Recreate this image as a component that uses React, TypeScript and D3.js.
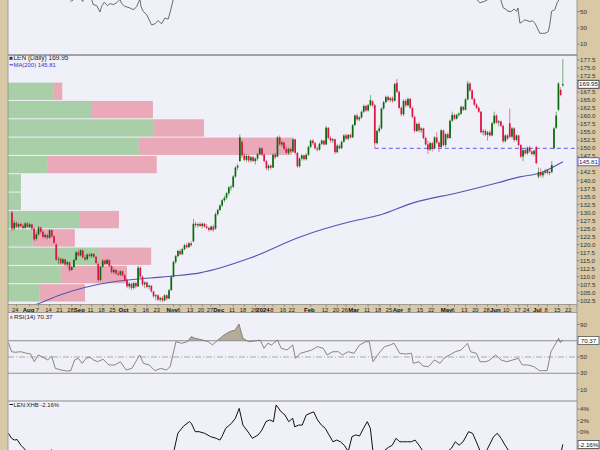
import React from 'react';
import * as d3 from 'd3';

// ---------------- DATA ----------------
// Daily candles (open, high, low, close), trading-day index starting at -12 (Jul 20 2023), index 0 = Aug 7 2023
const firstIndex = -12;
const candles: [number, number, number, number][] = [
  [130.0,130.5,124.2,125.0],[125.0,127.5,124.5,126.8],[126.8,127.2,125.2,125.6],[125.6,126.8,125.0,126.4],
  [126.4,126.9,125.4,125.8],[125.8,126.5,124.8,125.2],[125.2,127.0,125.0,126.6],[126.6,126.9,125.3,125.5],
  [125.5,126.8,125.1,126.3],[126.3,126.5,124.6,125.0],[125.0,125.3,121.0,121.6],[121.8,123.8,121.2,123.2],
  // 0
  [123.2,125.8,122.8,125.3],[125.3,125.6,123.5,124.0],[124.0,124.6,122.0,122.4],[122.4,123.5,121.8,123.0],
  [123.0,123.4,121.6,122.1],[122.1,124.8,121.9,124.5],[124.5,124.8,122.2,122.6],[122.6,123.0,120.2,120.6],
  [120.0,120.4,114.8,115.3],[115.3,116.2,114.0,115.6],
  // 10
  [115.6,116.0,113.8,114.2],[114.2,115.8,113.9,115.4],[115.4,115.6,113.3,113.8],[113.8,115.0,113.2,114.5],
  [114.5,114.7,111.6,112.1],[112.1,113.4,111.8,113.0],[113.0,115.6,112.8,115.2],[115.2,118.0,115.0,117.6],
  [117.6,118.4,116.2,116.6],[116.6,118.6,116.3,118.2],
  // 20
  [118.2,118.5,115.8,116.0],[116.0,116.8,114.9,115.4],[115.4,117.3,115.2,116.9],[116.9,117.5,116.0,116.4],
  [116.4,117.4,115.8,117.1],[117.1,117.3,115.8,116.2],[116.2,116.5,113.8,114.3],[114.0,114.4,108.3,109.0],
  [109.0,113.4,108.6,113.1],[113.1,115.5,112.8,115.0],
  // 30
  [115.0,115.4,113.6,114.0],[114.0,115.6,113.8,115.2],[115.2,115.4,113.0,113.3],[113.3,113.6,111.0,111.4],
  [111.4,112.6,110.8,112.1],[112.1,112.4,110.6,111.0],[111.0,111.9,110.2,110.6],[110.6,112.0,110.3,111.7],
  [111.7,111.9,110.0,110.4],[110.4,110.8,108.6,109.0],
  // 40
  [109.0,109.4,106.4,107.0],[107.0,108.4,106.2,107.8],[107.8,108.2,105.8,106.5],[106.5,108.5,106.0,108.0],
  [108.0,108.4,106.4,107.0],[107.0,113.4,106.8,112.8],[112.8,113.2,109.6,110.0],[110.0,110.4,107.0,107.6],
  [107.6,108.6,106.4,108.2],[108.2,108.6,106.4,106.8],
  // 50
  [106.8,107.6,106.0,107.2],[107.2,107.4,105.0,105.4],[105.4,105.6,103.4,103.9],[103.9,104.6,102.6,104.2],
  [104.2,104.5,102.4,102.9],[102.9,103.8,102.2,103.4],[103.4,104.0,102.0,102.6],[102.6,104.6,102.3,104.2],
  [104.2,104.5,102.8,103.2],[103.2,106.2,103.0,105.8],
  // 60
  [105.8,110.4,105.6,110.0],[110.0,115.0,109.8,114.6],[114.6,116.8,114.0,116.4],[116.4,118.4,116.0,118.0],
  [118.0,118.6,116.6,117.0],[117.0,119.0,116.8,118.6],[118.6,120.2,118.2,119.8],[119.8,120.6,118.8,119.2],
  [119.2,120.8,119.0,120.4],[120.4,121.0,119.4,119.8],
  // 70
  [121.0,128.0,120.8,126.5],[126.5,127.2,125.4,126.0],[126.0,126.8,125.2,126.4],[126.4,127.0,125.5,125.8],
  [125.8,126.9,125.0,126.5],[126.5,126.8,125.3,125.6],[125.6,126.4,124.8,125.2],[125.2,125.6,124.0,124.6],
  [124.6,126.0,124.2,125.6],[125.6,126.2,124.0,124.6],
  // 80
  [125.0,130.0,124.6,129.5],[129.5,131.2,129.0,130.8],[130.8,132.6,130.4,132.2],[132.2,134.2,131.6,133.8],
  [133.8,135.2,133.2,134.6],[134.6,136.4,134.0,136.0],[136.0,138.2,135.4,137.8],[137.8,138.6,136.8,138.0],
  [138.0,141.6,137.6,141.2],[141.2,144.4,140.8,144.0],
  // 90
  [144.0,145.2,143.2,144.6],[146.0,154.4,145.8,153.4],[152.0,152.6,147.0,147.8],[147.8,148.6,146.0,146.4],
  [146.4,148.2,145.8,147.6],[147.6,148.0,145.6,146.2],[146.2,147.6,145.6,147.2],[147.2,147.6,145.8,146.0],
  [146.0,147.2,145.0,146.8],[146.8,148.6,146.2,148.2],
  // 100
  [148.2,150.4,147.8,150.0],[150.0,150.2,147.6,148.0],[148.0,148.4,145.6,146.0],[146.0,146.4,143.2,143.8],
  [143.8,145.0,143.0,144.6],[144.6,145.0,143.4,144.0],[144.0,148.4,143.8,148.0],[148.0,148.6,146.6,147.2],
  [147.4,153.8,147.2,153.4],[153.4,154.0,150.8,151.2],
  // 110
  [151.2,152.4,150.4,151.8],[151.8,152.0,149.4,149.8],[149.8,150.6,148.2,148.6],[148.6,150.2,148.0,149.8],
  [149.8,150.4,148.6,149.0],[149.0,153.4,148.6,152.8],[152.8,153.0,148.0,148.6],[148.6,148.8,143.8,144.4],
  [144.4,147.2,144.0,146.8],[146.8,148.2,146.2,147.8],
  // 120
  [147.8,148.0,146.2,146.6],[146.6,148.4,146.2,148.0],[148.0,150.8,147.6,150.4],[150.4,152.8,150.0,152.4],
  [152.4,152.8,151.0,151.6],[151.6,152.0,149.6,150.0],[150.0,150.6,149.0,149.6],[149.6,151.8,149.2,151.4],
  [151.4,152.8,151.0,152.4],[152.4,152.6,150.8,151.2],
  // 130
  [151.2,157.0,151.0,156.4],[156.4,156.6,152.8,153.2],[153.2,153.8,151.8,152.4],[152.4,153.2,151.6,152.8],
  [152.8,153.0,148.2,148.8],[148.8,151.4,148.4,150.8],[150.8,151.2,149.6,150.0],[150.0,152.4,149.8,152.0],
  [152.0,154.4,151.8,154.0],[154.0,154.6,152.6,153.0],
  // 140
  [153.0,154.4,152.4,154.2],[154.2,154.6,153.0,153.4],[153.4,157.6,153.2,157.2],[157.2,160.6,157.0,160.2],
  [160.2,160.8,158.6,159.0],[159.0,160.0,158.4,159.6],[159.6,161.8,159.2,161.4],[161.4,163.6,161.0,163.2],
  [163.2,163.6,161.4,161.8],[161.8,163.8,161.4,163.4],
  // 150
  [163.4,166.6,163.0,165.0],[164.6,165.0,162.8,163.4],[163.4,163.8,150.0,151.6],[151.6,155.8,151.2,155.4],
  [155.4,157.2,154.8,156.2],[156.2,162.8,155.8,162.4],[162.4,164.8,162.0,164.4],[164.4,166.4,164.0,166.0],
  [166.0,166.4,164.6,165.0],[165.0,166.0,164.4,165.6],
  // 160
  [165.6,166.2,164.2,164.8],[164.8,170.4,164.6,170.0],[170.4,171.6,167.2,167.6],[167.6,168.0,162.2,162.6],
  [162.6,163.0,160.0,160.6],[160.6,165.2,160.0,164.8],[164.8,165.4,162.8,163.4],[163.4,165.8,163.0,165.4],
  [165.4,165.8,162.2,162.6],[162.6,163.0,159.4,159.8],
  // 170
  [159.8,160.2,154.8,155.4],[155.4,158.0,155.0,157.6],[157.6,158.2,155.0,155.6],[155.6,156.6,154.8,156.2],
  [156.2,156.4,152.8,153.2],[153.2,153.6,150.8,151.2],[151.2,152.4,148.2,149.6],[149.6,152.0,149.2,151.6],
  [151.6,152.0,149.0,150.0],[150.0,153.8,149.6,153.4],
  // 180
  [153.4,155.0,151.4,151.8],[151.8,152.2,148.8,150.4],[150.4,156.0,150.0,155.6],[155.6,155.8,150.6,151.0],
  [151.0,154.8,150.4,154.4],[154.4,155.0,152.8,153.2],[153.2,159.0,153.0,158.6],[158.6,161.4,158.2,160.4],
  [160.4,160.8,158.8,159.2],[159.2,160.8,159.0,160.4],
  // 190
  [160.4,161.2,159.8,160.8],[160.8,163.4,160.4,162.9],[162.9,163.2,161.6,162.0],[162.0,165.6,161.8,165.2],
  [165.2,171.0,165.0,170.2],[170.2,170.6,167.6,168.0],[168.0,168.4,165.0,165.4],[165.4,165.8,163.2,163.6],
  [163.6,164.0,162.2,162.6],[162.6,163.0,161.0,161.4],
  // 200
  [161.4,161.6,154.6,155.0],[155.0,156.0,154.0,155.4],[155.4,156.0,153.8,154.2],[154.2,155.4,152.4,155.0],
  [155.0,155.6,153.6,154.0],[154.0,158.2,153.8,157.8],[157.8,161.4,157.4,160.2],[160.2,160.6,157.6,158.0],
  [158.0,158.8,156.8,158.4],[158.4,158.6,156.6,157.0],
  // 210
  [157.0,157.4,151.6,152.2],[152.2,154.4,151.8,154.0],[154.0,154.4,152.6,153.0],[157.8,162.4,153.2,153.6],
  [153.6,156.6,153.0,156.2],[156.2,156.6,152.0,152.6],[152.6,154.4,152.2,154.0],[154.0,154.2,150.6,151.0],
  [151.0,151.4,147.0,147.4],[147.4,149.8,146.0,149.4],
  // 220
  [149.4,150.0,148.0,148.4],[148.4,150.6,148.0,150.2],[150.2,150.8,148.6,149.0],[149.0,149.4,147.8,148.2],
  [148.2,149.6,147.6,149.2],[150.4,150.8,145.0,145.4],[141.2,144.0,140.6,142.6],[142.6,143.8,141.0,141.6],
  [141.6,143.0,140.8,142.4],[142.4,143.6,141.8,142.8],
  // 230
  [143.2,143.6,141.8,142.3],[142.3,143.0,141.6,142.6],[142.6,146.0,142.2,144.8],[150.0,156.6,149.6,156.2],
  [156.4,161.4,156.0,160.2],[162.0,170.6,161.6,170.2],[168.2,169.0,166.2,166.6],[169.6,177.8,169.2,169.95],
];

// 200-day moving average, read at points [day index, value]
const ma200: [number, number][] = [
  [-13.8, 99.0], [-1.6, 101.2], [9.7, 104.3], [27.8, 107.7], [50.4, 109.6], [60.8, 110.2], [73, 111.2],
  [95.6, 115.8], [118.2, 122.4], [140.8, 127.1], [154.3, 129.2], [169.3, 133.0], [189.1, 136.1],
  [207.2, 139.2], [217.6, 141.1], [226.7, 142.3], [237, 145.81],
];

// Volume by price: 12 price zones from the bottom up, up-volume and down-volume (millions)
const vbpLow = 102.1;
const vbpStep = 5.71;
const vbpUp = [9.1, 15.1, 26.3, 7.1, 20.3, 3.7, 3.7, 11.4, 37.4, 41.7, 24.0, 12.9];
const vbpDown = [12.9, 18.9, 14.6, 12.0, 11.4, 0, 0, 31.1, 43.7, 14.3, 17.4, 2.6];

// support line
const supportFrom = 152;
const supportPrice = 150;

// RSI(14)
const rsi: [number, number][] = [
  [-13.6,67.6],[-12.2,56.5],[-10.5,55.8],[-8,56.5],[-5.3,54.5],[-3.6,53.7],[-1.9,44.2],[-0.1,52.5],[1.5,50.4],
  [4.2,46.3],[5.9,51.2],[7.6,36],[10.2,34],[12.8,32.8],[14.6,33.2],[16.3,46.3],[18,48.4],[19.7,42.2],[21.5,48.4],
  [23.2,49.6],[24.9,46.3],[26.7,44.2],[29.2,47.2],[31.8,40.2],[34.4,40.2],[37,44.2],[39.6,34],[42.2,36],[45.7,52.5],
  [47.4,42.2],[50,40.2],[52.6,33.2],[55.2,36],[57.8,34],[59.5,38.1],[62.1,68.8],[64.7,66.9],[67.3,68.8],[69,75],
  [70.8,73],[74.2,70.9],[76.8,68.8],[78.6,64.8],[81.1,70.9],[83.8,77],[86.3,81.1],[88.9,83.2],[90.6,90.6],[92.4,73],
  [95,68.8],[97.6,69.7],[100.2,70.9],[101.9,60.7],[103.6,66.9],[105.3,64.8],[108,70.9],[109.7,60.7],[112.3,58.6],
  [114.9,64.8],[116.1,48.4],[118.3,54.5],[120.9,56.5],[123.5,58.6],[126.1,62.7],[128.7,60.7],[130.4,52.5],[133,56.5],
  [135.6,56.5],[137.3,52.5],[140,56.5],[142.6,54.5],[145.1,64.8],[147.8,68.8],[149.5,68.8],[151.2,44.2],[153.8,54.5],
  [156.4,62.7],[159,64.8],[160.7,66.9],[163.3,54.5],[165.9,53.7],[168.6,54.5],[169.4,42.2],[172,44.2],[173.7,38.9],
  [176.3,38.1],[178.9,46.3],[181.5,42.2],[183.2,48.4],[185.8,52.5],[188.4,56.5],[191,58.6],[193.9,66.9],[195.3,56.5],
  [197.9,54.5],[199.6,44.2],[202.2,44.2],[204,46.3],[206.6,52.5],[209.1,46.3],[211.7,44.2],[214.3,46.3],[216.9,48.4],
  [218.7,40.2],[221.2,40.2],[223.9,38.1],[226.4,33.2],[229.9,33.2],[231.6,56.5],[233.4,64.8],[235.1,73],[235.9,67.6],
  [236.8,70.9],[237,70.37],
];

// LEN:XHB relative performance (%)
const rel: [number, number][] = [
  [-13.6,-0.23],[-12.2,-1.1],[-10.9,-1.4],[-9.7,-1.3],[-8,-2.3],[-6.7,-2.8],[-4,-4.0],[2,-4.5],[5.9,-3.1],[10,-4.2],
  [30,-4.5],[50,-5],[58,-4.5],[61.3,-3.1],[63,-0.2],[65.6,1.04],[68.2,1.8],[69.1,1.5],[70.8,0.06],[72.5,0.06],
  [75.1,-0.23],[77.7,-0.8],[80.3,-1.1],[82,-1.4],[82.9,-0.8],[84.6,0.64],[87.2,1.5],[89,2.4],[90.7,4.1],[92.4,1.2],
  [94.1,0.35],[96.7,-1.1],[99.3,-0.5],[101,0.35],[102.8,1.8],[104.5,2.1],[106.2,1.8],[107.4,4.7],[109.7,3.5],
  [111.4,2.95],[113.1,1.8],[114.9,2.4],[115.8,0.9],[117.5,1.2],[119.2,1.2],[121,2.95],[122.7,3.25],[124.4,3.5],
  [126.1,2.1],[127.9,1.2],[129.6,0.64],[131.3,-0.5],[133.1,-1.7],[134.8,-1.4],[136.5,-1.7],[138.2,-2.3],[140,-3.4],
  [141.7,-0.8],[143.4,-0.5],[145.1,-0.7],[146.9,0.64],[148.6,1.8],[150,0.64],[151.2,-3.5],[153.4,-4.5],[156.4,-3.2],
  [158.1,-2.7],[159.9,-2.3],[161.6,-1.1],[163.3,-1.7],[165,-1.7],[166.8,-1.7],[168.5,-1.7],[170.2,-1.4],[172,-2.3],
  [173.7,-3.3],[176.9,-4.2],[181.4,-4.5],[186.7,-2.8],[188.4,-1.7],[190.1,-2.3],[191.9,-1.7],[194.4,0.06],[196.2,-0.23],
  [197.9,-1.7],[199.6,-3.3],[201.8,-3.8],[203.1,-2.8],[205.7,-0.8],[207.4,-0.23],[209.1,-1.1],[210.9,-2.3],[212.6,-3.3],
  [217.5,-4.5],[224.3,-5],[231.5,-4.8],[234.2,-3.8],[236.2,-3.5],[237,-2.16],
];

// Indicator line of the panel above (only its lower part is visible)
const upper: [number, number][] = [
  [-13.8,78],[0,74],[10,70],[14.2,65],[15,62.9],[16,65.5],[18,68],[19.5,65],[19.9,62.5],[20.6,66],[22.5,67],[24,65],
  [24.7,58.8],[26.3,57.5],[27.8,49.6],[28.5,56.6],[29.7,61.6],[31.2,57.5],[32.3,60],[33.8,58.8],[35.3,60.9],[36,62.9],
  [36.8,65],[37.6,60],[39,56.6],[41.3,54.6],[42.8,52.5],[44.3,55.9],[45.4,62.9],[45.8,66],[46.3,56.6],[47.3,50.4],
  [48.9,46.3],[51.1,33.8],[52.6,35],[54.1,39.1],[55.6,35],[57.1,42.1],[58.6,40.9],[59.4,48.4],[60.9,65],[63,78],
  [80,88],[95,80],[110,75],[130,72],[150,70],[170,72],[185,75],[196,70],[198.2,65],[199.5,60.9],[201.7,62.9],
  [203.1,65],[205,70],[207,68],[208.9,65],[210.1,54.6],[211.6,52.5],[212.2,50.4],[213.8,50.4],[214.9,53.4],
  [216.1,50.4],[216.7,54.6],[217.6,35.9],[218.8,37.9],[219.8,40],[222.1,37.9],[223.3,38.8],[224.4,35.9],[225.9,27.5],
  [226.6,23.4],[228.9,23.4],[230.4,25.4],[231.1,33.8],[231.9,50.4],[233.4,52.5],[234.4,60.9],[235.3,65],[237,75],
];

// Date axis labels
const weekTicks: [number, string][] = [
  [-10,'24'],[0,'7'],[5,'14'],[10,'21'],[15,'28'],[24,'11'],[29,'18'],[34,'25'],[44,'9'],[49,'16'],[54,'23'],
  [64,'6'],[69,'13'],[74,'20'],[78,'27'],[88,'11'],[93,'18'],[98,'26'],[106,'8'],[111,'16'],[115,'22'],
  [130,'12'],[135,'20'],[139,'26'],[149,'11'],[154,'18'],[159,'25'],[168,'8'],[173,'15'],[178,'22'],
  [188,'6'],[193,'13'],[198,'20'],[203,'28'],[212,'10'],[217,'17'],[221,'24'],[230,'8'],[235,'15'],[240,'22'],
];
const monthTicks: [number, string][] = [
  [-4,'Aug'],[19,'Sep'],[39,'Oct'],[61,'Nov'],[82,'Dec'],[102,'2024'],[123,'Feb'],[143,'Mar'],[163,'Apr'],
  [185,'May'],[207,'Jun'],[226,'Jul'],
];

const priceTicks = d3.range(102.5, 177.6, 2.5);
const rsiTicks = [90, 70, 50, 30, 10];
const upperTicks = [50, 30, 10];
const relTicks = [4, 2, 0];

const lastClose = 169.95;
const lastMA = 145.81;
const lastRSI = 70.37;
const lastRel = -2.16;

// ---------------- LAYOUT ----------------
const W = 600, H = 450;
const PL = 8, PR = 577;
const TAN = '#d8c8a6';
const BG = '#f0f0f8';
const BORDER = '#8c8c8c';
const UP = '#0b6b0b';
const DOWN = '#dc1446';
const FONT = '"Liberation Sans", Arial, sans-serif';
const FS = 6.2;

const topP = { y0: 0, y1: 55 };
const mainP = { y0: 55.5, y1: 304.5 };
const rsiP = { y0: 312.5, y1: 401 };
const relP = { y0: 401, y1: 450 };

export default function App() {
  const x = d3.scaleLinear().domain([-13.8, 243.4]).range([PL, PR]);
  const yP = d3.scaleLinear().domain([101.34, 178.91]).range([mainP.y1, mainP.y0]);
  const yR = d3.scaleLinear().domain([-4.15, 104.77]).range([rsiP.y1, rsiP.y0]);
  const yU = d3.scaleLinear().domain([-3.29, 64.4]).range([topP.y1, topP.y0]);
  const yRel = d3.scaleLinear().domain([-3.13, 5.39]).range([relP.y1, relP.y0]);
  const xV = d3.scaleLinear().domain([0, 100]).range([0, 350]);

  const maLine = d3.line<[number, number]>().x(d => x(d[0])).y(d => yP(d[1])).curve(d3.curveMonotoneX);
  const rsiLine = d3.line<[number, number]>().x(d => x(d[0])).y(d => yR(d[1]));
  const rsiArea = d3.area<[number, number]>().x(d => x(d[0])).y0(yR(70)).y1(d => yR(d[1]));
  const relLine = d3.line<[number, number]>().x(d => x(d[0])).y(d => yRel(d[1]));
  const upLine = d3.line<[number, number]>().x(d => x(d[0])).y(d => yU(d[1]));

  const cw = 1.7;

  const rightLabel = (y: number, text: string, key: string) => (
    <g key={key}>
      <line x1={PR} x2={PR + 2.5} y1={y} y2={y} stroke="#555" strokeWidth={0.6} />
      <text x={PR + 3} y={y + 2.1} fontSize={FS} fill="#333">{text}</text>
    </g>
  );
  const boxLabel = (y: number, text: string, stroke: string, color: string, key: string) => (
    <g key={key}>
      <rect x={PR + 1} y={y - 4} width={21} height={8} fill="#fff" stroke={stroke} strokeWidth={0.8} />
      <text x={PR + 11.5} y={y + 2.2} fontSize={FS} fill={color} textAnchor="middle">{text}</text>
    </g>
  );

  const closeY = yP(lastClose);
  const maY = yP(lastMA);

  return (
    <svg width={W} height={H} style={{ position: 'absolute', left: 0, top: 0, display: 'block' }} fontFamily={FONT}>
      <defs>
        <clipPath id="cTop"><rect x={PL} y={topP.y0} width={PR - PL} height={topP.y1 - topP.y0} /></clipPath>
        <clipPath id="cMain"><rect x={PL} y={mainP.y0} width={PR - PL} height={mainP.y1 - mainP.y0} /></clipPath>
        <clipPath id="cRsi"><rect x={PL} y={rsiP.y0} width={PR - PL} height={rsiP.y1 - rsiP.y0} /></clipPath>
        <clipPath id="cRsiHi"><rect x={PL} y={rsiP.y0} width={PR - PL} height={yR(70) - rsiP.y0} /></clipPath>
        <clipPath id="cRel"><rect x={PL} y={relP.y0} width={PR - PL} height={relP.y1 - relP.y0} /></clipPath>
      </defs>
      <rect x={0} y={0} width={W} height={H} fill={TAN} />

      {/* panel backgrounds */}
      <rect x={PL} y={topP.y0} width={PR - PL} height={topP.y1 - topP.y0} fill={BG} />
      <rect x={PL} y={mainP.y0} width={PR - PL} height={mainP.y1 - mainP.y0} fill={BG} />
      <rect x={PL} y={rsiP.y0} width={PR - PL} height={rsiP.y1 - rsiP.y0} fill={BG} />
      <rect x={PL} y={relP.y0} width={PR - PL} height={relP.y1 - relP.y0} fill={BG} />

      {/* upper panel */}
      <g clipPath="url(#cTop)">
        <path d={upLine(upper) || ''} fill="none" stroke="#5c5c5c" strokeWidth={0.9} />
      </g>
      {upperTicks.map(t => rightLabel(yU(t), String(t), 'u' + t))}

      {/* main panel */}
      <g clipPath="url(#cMain)">
        {vbpUp.map((u, i) => {
          const yTop = yP(vbpLow + (i + 1) * vbpStep);
          const yBot = yP(vbpLow + i * vbpStep);
          const h = yBot - yTop - 1;
          return (
            <g key={'v' + i}>
              <rect x={PL} y={yTop + 0.5} width={xV(u)} height={h} fill="#a9cfa9" />
              <rect x={PL + xV(u)} y={yTop + 0.5} width={xV(vbpDown[i])} height={h} fill="#e9a9b9" />
            </g>
          );
        })}
        <line x1={x(supportFrom)} x2={PR} y1={yP(supportPrice)} y2={yP(supportPrice)} stroke="#4a4aee" strokeWidth={0.9} strokeDasharray="4,3" />
        <path d={maLine(ma200) || ''} fill="none" stroke="#5454b8" strokeWidth={1.1} />
        {candles.map((c, i) => {
          const [o, h, l, cl] = c;
          const cx = x(firstIndex + i);
          const col = cl >= o ? UP : DOWN;
          const top = yP(Math.max(o, cl));
          const bh = Math.max(0.8, yP(Math.min(o, cl)) - top);
          return (
            <g key={'c' + i}>
              <line x1={cx} x2={cx} y1={yP(h)} y2={yP(l)} stroke={col} strokeWidth={0.7} opacity={0.75} />
              <rect x={cx - cw / 2} y={top} width={cw} height={bh} fill={col} />
            </g>
          );
        })}
      </g>
      {priceTicks.filter(t => Math.abs(yP(t) - closeY) > 5 && Math.abs(yP(t) - maY) > 5)
        .map(t => rightLabel(yP(t), t.toFixed(1), 'p' + t))}
      {boxLabel(closeY, lastClose.toFixed(2), '#222', '#111', 'bclose')}
      {boxLabel(maY, lastMA.toFixed(2), '#3c3cc8', '#222266', 'bma')}

      {/* main titles */}
      <rect x={9.5} y={56.8} width={3} height={3} fill="#333" />
      <text x={13.5} y={60.2} fontSize={FS + 0.3} fill="#222">LEN (Daily) {lastClose.toFixed(2)}</text>
      <line x1={9.5} x2={13} y1={64.8} y2={64.8} stroke="#3030c0" strokeWidth={1} />
      <text x={13.5} y={67} fontSize={FS - 0.3} fill="#3030c0">MA(200) {lastMA.toFixed(2)}</text>

      {/* date axis */}
      {weekTicks.map(([i, t]) => (
        <g key={'w' + i}>
          <line x1={x(i)} x2={x(i)} y1={mainP.y1} y2={mainP.y1 + 2} stroke="#555" strokeWidth={0.6} />
          <text x={x(i) - 1.2} y={mainP.y1 + 7} fontSize={FS - 0.4} textAnchor="middle" fill="#222">{t}</text>
        </g>
      ))}
      {monthTicks.map(([i, t]) => (
        <g key={'m' + i}>
          <line x1={x(i)} x2={x(i)} y1={mainP.y1} y2={mainP.y1 + 2} stroke="#555" strokeWidth={0.6} />
          <text x={x(i) - 1.2} y={mainP.y1 + 7} fontSize={FS - 0.2} fontWeight="bold" textAnchor="middle" fill="#111">{t}</text>
        </g>
      ))}

      {/* RSI panel */}
      <g clipPath="url(#cRsiHi)">
        <path d={rsiArea(rsi) || ''} fill="#b4ac98" stroke="none" />
      </g>
      <line x1={PL} x2={PR} y1={yR(70)} y2={yR(70)} stroke="#7a7a7a" strokeWidth={0.8} />
      <line x1={PL} x2={PR} y1={yR(30)} y2={yR(30)} stroke="#7a7a7a" strokeWidth={0.8} />
      <line x1={PL} x2={PR} y1={yR(50)} y2={yR(50)} stroke="#8a8a8a" strokeWidth={0.7} strokeDasharray="6,2,1,2" />
      <g clipPath="url(#cRsi)">
        <path d={rsiLine(rsi) || ''} fill="none" stroke="#7c7c6e" strokeWidth={0.9} />
      </g>
      {rsiTicks.filter(t => Math.abs(yR(t) - yR(lastRSI)) > 5).map(t => rightLabel(yR(t), String(t), 'r' + t))}
      {boxLabel(yR(lastRSI), lastRSI.toFixed(2), '#555', '#222', 'brsi')}
      <path d="M9.5,318.5 L11.3,315 L13.1,318.5 Z" fill="#8a8a8a" />
      <text x={14} y={318.6} fontSize={FS} fill="#222">RSI(14) {lastRSI.toFixed(2)}</text>

      {/* relative panel */}
      <g clipPath="url(#cRel)">
        <path d={relLine(rel) || ''} fill="none" stroke="#111" strokeWidth={1} />
      </g>
      {relTicks.map(t => rightLabel(yRel(t), t + '%', 'l' + t))}
      {boxLabel(yRel(lastRel), lastRel.toFixed(2) + '%', '#444', '#111', 'brel')}
      <line x1={9.5} x2={13} y1={404.5} y2={404.5} stroke="#111" strokeWidth={1} />
      <text x={13.5} y={406.6} fontSize={FS - 0.3} fill="#222">LEN:XHB {lastRel.toFixed(2)}%</text>

      {/* borders */}
      <line x1={PL} x2={PR} y1={topP.y1} y2={topP.y1} stroke={BORDER} strokeWidth={1.5} />
      <line x1={PL} x2={PR} y1={mainP.y1} y2={mainP.y1} stroke={BORDER} strokeWidth={0.8} />
      <line x1={PL} x2={PR} y1={rsiP.y0} y2={rsiP.y0} stroke={BORDER} strokeWidth={0.8} />
      <line x1={PL} x2={PR} y1={rsiP.y1} y2={rsiP.y1} stroke={BORDER} strokeWidth={1.2} />
      <line x1={PL} x2={PL} y1={0} y2={H} stroke={BORDER} strokeWidth={0.8} />
      <line x1={PR} x2={PR} y1={0} y2={H} stroke={BORDER} strokeWidth={0.8} />
    </svg>
  );
}
